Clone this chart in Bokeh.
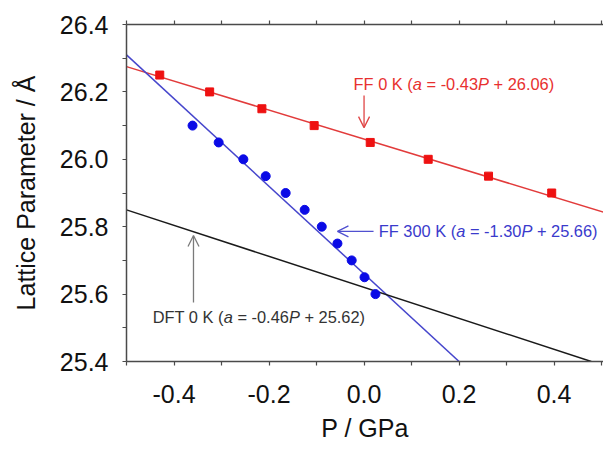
from bokeh.plotting import figure
from bokeh.models import (Range1d, LinearAxis, FixedTicker, Label, Arrow, OpenHead,
                          PrintfTickFormatter, CustomJSTickFormatter)
from bokeh.embed import file_html
from bokeh.resources import INLINE

# ---------------- data ----------------
p_ff0 = [-0.43, -0.325, -0.215, -0.105, 0.013, 0.135, 0.262, 0.395]
a_ff0 = [26.25, 26.20, 26.15, 26.10, 26.05, 26.00, 25.95, 25.90]

p_ff300 = [-0.361, -0.306, -0.254, -0.207, -0.165, -0.125, -0.089, -0.056, -0.026, 0.001, 0.024]
a_ff300 = [26.10, 26.05, 26.00, 25.95, 25.90, 25.85, 25.80, 25.75, 25.70, 25.65, 25.60]

fit_names = ["FF 0 K", "FF 300 K", "DFT 0 K"]
fit_slopes = [-0.43, -1.30, -0.46]
fit_intercepts = [26.06, 25.66, 25.62]

x_ticks = [-0.4, -0.2, 0.0, 0.2, 0.4]
x_minor = [-0.5, -0.3, -0.1, 0.1, 0.3, 0.5]
y_ticks = [25.4, 25.6, 25.8, 26.0, 26.2, 26.4]
y_minor = [25.5, 25.7, 25.9, 26.1, 26.3]

X0, X1 = -0.5, 0.504
Y0, Y1 = 25.4, 26.4

FONT = "Liberation Sans"
line_colors = ["#e23b3b", "#4646cc", "#1a1a1a"]
text_colors = ["#e8302f", "#3a3acc", "#333333"]
arrow_colors = ["#e04545", "#5050d0", "#7a7a7a"]

p = figure(width=603, height=451, output_backend="svg", toolbar_location=None,
           x_range=Range1d(X0, X1), y_range=Range1d(Y0, Y1),
           min_border_left=126, min_border_right=0, min_border_top=24, min_border_bottom=90,
           x_axis_location=None, y_axis_location=None)
p.outline_line_color = None
p.xgrid.visible = False
p.ygrid.visible = False
p.background_fill_color = "white"
p.border_fill_color = "white"

AX = "#4a4a4a"

def style_axis(ax, ticks, minor, labels=True):
    ax.ticker = FixedTicker(ticks=ticks, minor_ticks=minor)
    ax.axis_line_color = AX
    ax.axis_line_width = 1.5
    ax.major_tick_line_color = AX
    ax.minor_tick_line_color = AX
    ax.major_tick_line_width = 1.2
    ax.minor_tick_line_width = 1.2
    ax.major_tick_in = 0
    ax.major_tick_out = 4
    ax.minor_tick_in = 0
    ax.minor_tick_out = 4
    ax.major_label_text_font = FONT
    ax.major_label_text_color = "#111111"
    ax.axis_label_text_font = FONT
    ax.axis_label_text_font_size = "25px"
    ax.axis_label_text_font_style = "normal"
    ax.axis_label_text_color = "#111111"
    if labels:
        ax.formatter = PrintfTickFormatter(format="%.1f")
        ax.major_label_text_font_size = "25px"
    else:
        ax.formatter = CustomJSTickFormatter(code="return ''")
        ax.major_label_text_font_size = "1px"
        ax.major_label_standoff = 0

xb = LinearAxis(axis_label="P / GPa")
style_axis(xb, x_ticks, x_minor)
xb.major_label_standoff = 19
xb.axis_label_standoff = 8
p.add_layout(xb, "below")

xt = LinearAxis()
style_axis(xt, x_ticks, x_minor, labels=False)
p.add_layout(xt, "above")

yl = LinearAxis(axis_label="Lattice Parameter / Å")
style_axis(yl, y_ticks, y_minor)
yl.major_label_standoff = 14
yl.axis_label_standoff = 17
p.add_layout(yl, "left")

# fit lines
for m, b, c in zip(fit_slopes, fit_intercepts, line_colors):
    xs = X0
    xe = min(X1, (Y0 - b) / m)
    p.line([xs, xe], [m * xs + b, m * xe + b], line_color=c, line_width=1.5)

p.scatter(p_ff0, a_ff0, marker="square", size=8, fill_color="#ee1111", line_color="#ee1111")
p.scatter(p_ff300, a_ff300, marker="circle", size=9, fill_color="#0a0ae6", line_color="#0a0ae6")

# annotations
W = {' ': 278, 'F': 611, 'K': 667, 'D': 722, 'T': 611, 'P': 667, '(': 333, ')': 333,
     'a': 556, '=': 584, '-': 333, '+': 584, '.': 278}
for d in "0123456789":
    W[d] = 556

def twidth(s, fs):
    return sum(W.get(ch, 556) for ch in s) / 1000.0 * fs

FS = 16.4
ann_pos = [(-0.022, 26.222), (0.031, 25.786), (-0.445, 25.531)]
arrows = [((0.0, 26.189), (0.0, 26.094)),
          ((0.020, 25.786), (-0.056, 25.786)),
          ((-0.359, 25.575), (-0.359, 25.774))]

for i in range(3):
    segs = [(f"{fit_names[i]} (", False), ("a", True), (f" = {fit_slopes[i]:.2f}", False),
            ("P", True), (f" + {fit_intercepts[i]:.2f})", False)]
    off = 0.0
    x, y = ann_pos[i]
    for s, it in segs:
        lead = len(s) - len(s.lstrip(' '))
        txt = s.strip(' ')
        p.add_layout(Label(x=x, y=y, x_offset=off + twidth(' ' * lead, FS), text=txt,
                           text_font=FONT, text_font_size=f"{FS}px",
                           text_font_style="italic" if it else "normal",
                           text_color=text_colors[i], text_align="left", text_baseline="middle"))
        off += twidth(s, FS)
    (xs, ys), (xe, ye) = arrows[i]
    p.add_layout(Arrow(x_start=xs, y_start=ys, x_end=xe, y_end=ye,
                       line_color=arrow_colors[i], line_width=1.3,
                       end=OpenHead(size=11, line_color=arrow_colors[i], line_width=1.3)))

open("out.html", "w").write(file_html(p, INLINE))
